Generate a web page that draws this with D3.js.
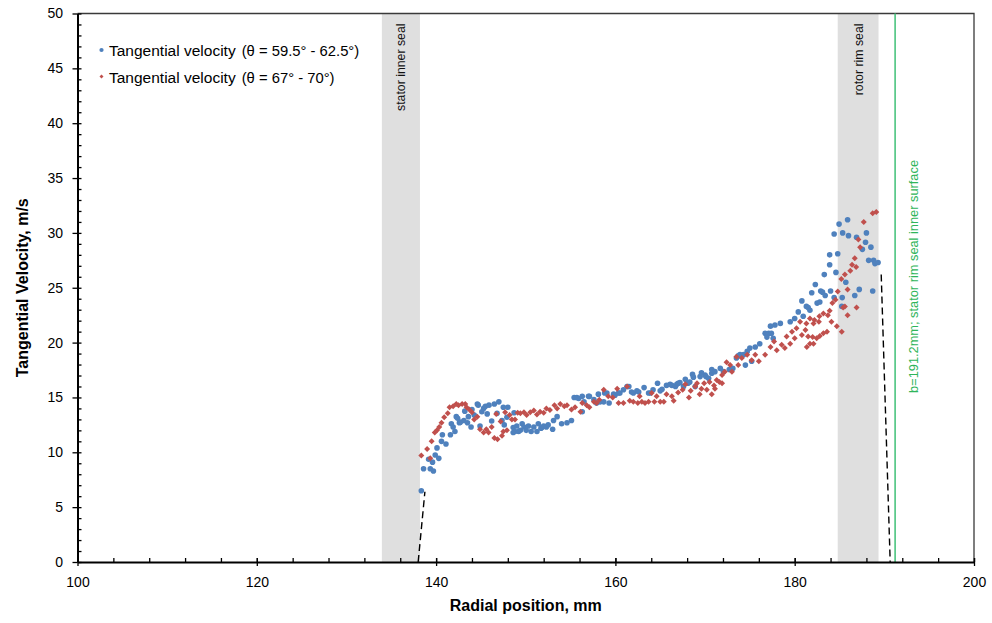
<!DOCTYPE html>
<html>
<head>
<meta charset="utf-8">
<script src="https://cdn.jsdelivr.net/npm/d3@7"></script>
<style>
  body { margin: 0; background: #fff; }
  svg { font-family: Arial, "Liberation Sans", sans-serif; }
  .axis text { font-size: 14px; fill: #000; }
</style>
</head>
<body>
<div id="chart"></div>
<script>
// tangential velocity, theta = 59.5 - 62.5 deg  [radial position mm, velocity m/s]
var blueSeries = [
  [138.35,6.5],[138.6,8.5],[139.17,9.36],[139.35,8.5],[139.6,9.1],[139.7,8.3],[139.9,9.75],[140.1,10.4],
  [140.3,9.45],[140.6,11.0],[140.7,11.6],[141.1,10.75],[141.6,11.6],[141.7,12.6],[141.9,12.3],[142.1,11.9],
  [142.25,13.25],[142.4,13.1],[142.6,12.7],[142.7,12.75],[143.1,12.9],[143.2,13.75],[143.5,12.7],[143.6,13.25],
  [143.9,12.3],[144.0,13.9],[144.25,13.4],[144.6,14.4],[144.7,14.3],[144.9,12.4],[145.1,13.7],[145.3,14.0],
  [145.5,14.2],[145.7,13.5],[145.9,14.3],[146.2,12.85],[146.5,14.4],[146.8,13.55],[147.0,14.6],[147.35,12.9],
  [147.5,14.1],[147.6,12.5],[147.9,13.2],[148.0,14.1],[148.6,11.8],[148.6,12.25],[148.7,13.6],[148.8,11.9],
  [149.0,12.4],[149.2,11.9],[149.4,12.0],[149.6,12.6],[149.8,12.3],[150.05,12.0],[150.3,12.4],[150.6,11.9],
  [150.9,12.3],[151.25,11.9],[151.4,12.6],[151.7,12.2],[151.8,12.25],[152.0,12.4],[152.3,12.3],[152.5,12.5],
  [153.0,12.1],[153.1,12.9],[153.5,13.25],[154.0,12.6],[154.6,12.7],[155.1,12.9],[155.4,15.0],[155.7,15.0],
  [155.9,14.9],[156.3,13.7],[156.3,15.1],[156.5,14.6],[157.0,15.1],[157.1,15.1],[157.6,14.8],[157.9,14.5],
  [158.1,15.3],[158.3,14.6],[158.7,14.6],[158.8,15.4],[159.05,15.4],[159.3,14.5],[159.8,15.3],[159.95,15.2],
  [160.35,15.4],[160.5,15.4],[160.9,15.7],[161.3,16.0],[161.5,16.0],[161.8,15.5],[162.0,15.4],[162.4,15.6],
  [162.6,15.5],[163.2,15.9],[163.7,15.4],[163.9,15.4],[164.2,15.7],[164.7,16.3],[165.0,15.6],[165.2,15.75],
  [165.7,16.1],[166.1,16.2],[166.3,16.1],[166.7,16.0],[166.85,16.2],[167.0,16.3],[167.2,16.35],[167.6,16.0],
  [167.8,16.65],[168.1,16.3],[168.3,16.4],[168.6,17.1],[168.7,16.85],[168.9,16.0],[169.45,16.9],[169.6,17.25],
  [170.0,17.05],[170.1,16.9],[170.4,16.75],[170.75,17.2],[170.75,17.55],[171.1,17.35],[171.7,17.65],[172.05,17.35],
  [172.7,17.55],[173.1,17.65],[173.5,18.6],[173.7,18.8],[173.9,18.9],[174.3,18.9],[174.5,17.95],[174.7,19.2],
  [175.0,19.5],[175.2,18.3],[175.6,19.6],[176.1,19.9],[176.7,20.85],[176.9,20.5],[177.1,20.85],[177.3,21.5],
  [177.4,20.85],[177.6,20.4],[177.8,21.6],[178.4,21.75],[179.5,21.9],[180.0,22.2],[180.4,22.8],[180.8,23.8],
  [180.95,22.4],[181.3,23.3],[181.5,23.2],[181.7,22.95],[181.9,24.55],[182.3,25.3],[182.5,23.6],[182.8,23.7],
  [182.9,24.7],[183.1,24.6],[183.3,26.2],[183.4,24.3],[183.9,27.1],[183.9,28.0],[184.0,24.7],[184.4,29.9],
  [184.4,24.1],[184.6,26.4],[184.8,28.1],[184.95,30.8],[185.25,23.3],[185.3,24.1],[185.35,30.0],[185.7,25.5],
  [185.9,31.2],[186.0,29.75],[186.7,24.3],[186.9,29.6],[187.2,24.85],[187.55,28.5],[187.9,29.15],[188.0,30.0],
  [188.25,27.5],[188.5,28.7],[188.7,24.7],[188.8,27.5],[188.95,27.2],[189.3,27.3]
];

// tangential velocity, theta = 67 - 70 deg
var redSeries = [
  [138.35,9.7],[139.0,10.3],[139.35,9.45],[139.5,11.0],[139.85,11.8],[140.1,12.0],[140.35,12.3],[140.6,12.7],
  [140.9,13.2],[141.3,13.55],[141.5,14.1],[141.9,14.2],[142.25,14.4],[142.5,14.3],[142.9,14.4],[143.25,14.4],
  [143.4,14.1],[143.7,13.9],[144.0,13.65],[144.25,13.0],[144.6,13.25],[144.9,12.1],[145.3,11.8],[145.6,12.1],
  [145.85,11.8],[146.2,12.3],[146.5,11.3],[146.7,13.5],[146.85,11.2],[147.2,12.8],[147.35,11.5],[147.5,11.9],
  [147.7,13.65],[147.9,12.0],[148.2,13.4],[148.45,13.0],[148.8,13.0],[149.1,13.6],[149.4,13.55],[149.8,13.65],
  [150.1,13.4],[150.5,13.65],[150.9,13.8],[151.25,13.45],[151.6,13.7],[152.0,13.6],[152.3,14.0],[152.7,13.85],
  [153.2,14.3],[153.5,14.0],[153.85,14.4],[154.3,14.2],[154.6,14.3],[155.1,13.9],[155.5,14.1],[156.1,13.7],
  [156.3,14.5],[156.8,14.3],[157.1,14.1],[157.6,14.6],[157.9,14.5],[158.2,14.8],[158.7,15.7],[159.2,15.1],
  [159.7,15.0],[160.2,15.8],[160.35,14.5],[160.9,14.5],[161.3,16.0],[161.6,14.7],[162.0,14.6],[162.5,14.5],
  [162.7,15.1],[162.95,14.6],[163.3,14.5],[163.7,14.6],[164.05,15.4],[164.35,14.6],[164.6,15.1],[165.0,14.6],
  [165.4,14.6],[165.7,15.3],[166.3,15.1],[166.5,14.7],[167.0,15.45],[167.5,15.7],[167.8,16.2],[168.2,15.0],
  [168.4,15.6],[168.9,16.0],[169.1,16.3],[169.4,15.3],[169.6,15.8],[169.9,16.3],[170.2,15.7],[170.5,16.4],
  [170.75,15.3],[171.0,16.1],[171.1,15.8],[171.3,16.6],[171.6,16.4],[171.9,17.05],[171.9,16.3],[172.2,17.35],
  [172.4,18.2],[172.8,17.95],[173.0,17.35],[173.5,18.7],[173.7,17.95],[174.1,18.6],[174.7,18.9],[175.2,18.4],
  [175.6,18.9],[176.0,18.3],[176.7,18.9],[177.3,19.6],[177.7,20.1],[178.0,19.3],[178.55,19.8],[178.9,19.5],
  [179.1,20.55],[179.5,19.9],[179.7,21.0],[180.0,20.4],[180.2,21.3],[180.6,21.9],[180.8,20.7],[181.2,21.15],
  [181.3,21.75],[181.35,19.6],[181.5,20.55],[181.7,22.2],[181.7,19.9],[182.0,20.5],[182.1,21.75],[182.1,19.9],
  [182.2,22.05],[182.45,20.4],[182.7,21.9],[182.75,22.4],[182.8,20.6],[183.2,22.65],[183.2,20.85],[183.6,21.0],
  [183.7,22.5],[183.9,22.9],[184.1,21.9],[184.2,23.6],[184.55,23.9],[184.7,21.5],[184.8,24.65],[185.2,25.8],
  [185.25,21.0],[185.4,23.2],[185.6,26.2],[185.6,23.3],[185.9,24.85],[185.9,22.5],[186.2,26.55],[186.4,27.1],
  [186.7,27.7],[186.85,26.9],[186.9,23.2],[187.1,29.4],[187.3,28.7],[187.7,31.0],[188.7,31.8],[189.1,31.9]
];

// seal zones (mm) and the stator rim seal surface
var sealBands = [
  {name: "stator inner seal", from: 133.95, to: 138.2},
  {name: "rotor rim seal", from: 184.8, to: 189.35}
];
var statorSurface = 191.2;
// dashed extrapolations to the walls
var dashLines = [
  [[138.0, 0], [138.75, 6.4]],
  [[189.65, 26.2], [190.65, 0]]
];
var xTicks = [100, 120, 140, 160, 180, 200];
var yTicks = [0, 5, 10, 15, 20, 25, 30, 35, 40, 45, 50];

var W = 992, H = 623;
var m = {left: 77.5, right: 974, top: 13.5, bottom: 562};

var svg = d3.select("#chart").append("svg")
  .attr("width", W)
  .attr("height", H);

var x = d3.scaleLinear().domain([100, 200]).range([m.left, m.right]);
var y = d3.scaleLinear().domain([0, 50]).range([m.bottom, m.top]);

// grey seal bands
var bands = svg.append("g");
bands.selectAll("rect")
  .data(sealBands)
  .enter()
  .append("rect")
  .attr("x", function(d) { return x(d.from); })
  .attr("y", m.top)
  .attr("width", function(d) { return x(d.to) - x(d.from); })
  .attr("height", m.bottom - m.top)
  .attr("fill", "#dfdfdf");

bands.selectAll("text")
  .data(sealBands)
  .enter()
  .append("text")
  .attr("transform", function(d) {
    return "translate(" + (x((d.from + d.to) / 2) + 4.5) + "," + (m.top + 10) + ") rotate(-90)";
  })
  .attr("text-anchor", "end")
  .style("font-size", "12.3px")
  .attr("fill", "#111")
  .text(function(d) { return d.name; });

// frame (top and right)
svg.append("path")
  .attr("d", "M" + m.left + "," + m.top + "H" + m.right + "V" + m.bottom)
  .attr("fill", "none")
  .attr("stroke", "#3a3a3a")
  .attr("stroke-width", 1.3);

// stator rim seal surface
svg.append("line")
  .attr("x1", x(statorSurface)).attr("x2", x(statorSurface))
  .attr("y1", m.top).attr("y2", m.bottom)
  .attr("stroke", "#4cc47f")
  .attr("stroke-width", 1.6);

svg.append("text")
  .attr("transform", "translate(" + (x(statorSurface) + 22.5) + ",160) rotate(-90)")
  .attr("text-anchor", "end")
  .style("font-size", "12.8px")
  .attr("fill", "#2fb55a")
  .text("b=191.2mm; stator rim  seal inner surface");

// dashed lines
var line = d3.line()
  .x(function(d) { return x(d[0]); })
  .y(function(d) { return y(d[1]); });

svg.selectAll(".dash")
  .data(dashLines)
  .enter()
  .append("path")
  .attr("class", "dash")
  .attr("d", line)
  .attr("fill", "none")
  .attr("stroke", "#000")
  .attr("stroke-width", 1.4)
  .attr("stroke-dasharray", "7,4");

// points
svg.append("g").selectAll("circle")
  .data(blueSeries)
  .enter()
  .append("circle")
  .attr("cx", function(d) { return x(d[0]); })
  .attr("cy", function(d) { return y(d[1]); })
  .attr("r", 2.8)
  .attr("fill", "#4f81bd");

var diamond = d3.symbol().type(d3.symbolSquare).size(18);
svg.append("g").selectAll("path")
  .data(redSeries)
  .enter()
  .append("path")
  .attr("d", diamond)
  .attr("transform", function(d) { return "translate(" + x(d[0]) + "," + y(d[1]) + ") rotate(45)"; })
  .attr("fill", "#c0504d");

// axes: majors cross the line, minors sit inside
svg.append("g")
  .attr("class", "axis")
  .attr("transform", "translate(0," + m.bottom + ")")
  .call(d3.axisBottom(x).tickValues(d3.range(100, 201, 4)).tickSize(-4).tickFormat(""))
  .select(".domain").remove();

var xAxis = svg.append("g")
  .attr("class", "axis")
  .attr("transform", "translate(0," + m.bottom + ")")
  .call(d3.axisBottom(x).tickValues(xTicks).tickSize(4).tickSizeOuter(0).tickPadding(11));
xAxis.selectAll(".tick line").attr("y1", -4);

svg.append("g")
  .attr("class", "axis")
  .attr("transform", "translate(" + m.left + ",0)")
  .call(d3.axisLeft(y).tickValues(d3.range(0, 51, 1)).tickSize(-4).tickFormat(""))
  .select(".domain").remove();

var yAxis = svg.append("g")
  .attr("class", "axis")
  .attr("transform", "translate(" + m.left + ",0)")
  .call(d3.axisLeft(y).tickValues(yTicks).tickSize(5).tickSizeOuter(0).tickPadding(9.5));

svg.selectAll(".axis .domain").attr("stroke-width", 2);
svg.selectAll(".axis .tick line").attr("stroke-width", 1.3);

// axis titles
svg.append("text")
  .attr("x", (m.left + m.right) / 2)
  .attr("y", 611)
  .attr("text-anchor", "middle")
  .style("font-size", "16px")
  .style("font-weight", "bold")
  .text("Radial position, mm");

svg.append("text")
  .attr("transform", "translate(28," + ((m.top + m.bottom) / 2) + ") rotate(-90)")
  .attr("text-anchor", "middle")
  .style("font-size", "16px")
  .style("font-weight", "bold")
  .text("Tangential Velocity, m/s");

// legend
var legend = [
  {label: "Tangential velocity", sub: "(θ = 59.5° - 62.5°)", color: "#4f81bd", shape: "circle"},
  {label: "Tangential velocity", sub: "(θ = 67° - 70°)", color: "#c0504d", shape: "diamond"}
];
var lg = svg.append("g").selectAll("g")
  .data(legend)
  .enter()
  .append("g")
  .attr("transform", function(d, i) { return "translate(101.5," + (50 + i * 26.5) + ")"; });

lg.append("path")
  .attr("d", function(d) {
    return d.shape == "circle" ? d3.symbol().type(d3.symbolCircle).size(14)() : d3.symbol().type(d3.symbolSquare).size(8)();
  })
  .attr("transform", function(d) { return d.shape == "circle" ? "" : "rotate(45)"; })
  .attr("fill", function(d) { return d.color; });

var lt = lg.append("text")
  .attr("x", 7.5)
  .attr("y", 6)
  .style("font-size", "15.5px");
lt.append("tspan").text(function(d) { return d.label; });
lt.append("tspan")
  .attr("dx", 6)
  .style("font-size", "14.8px")
  .text(function(d) { return d.sub; });
</script>
</body>
</html>
